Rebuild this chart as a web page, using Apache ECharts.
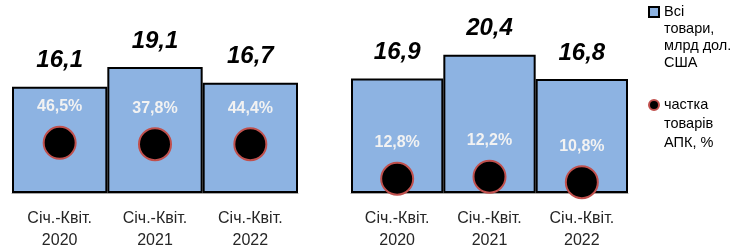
<!DOCTYPE html>
<html>
<head>
<meta charset="utf-8">
<script src="https://cdn.jsdelivr.net/npm/echarts@6/dist/echarts.min.js"></script>
<style>
  html, body { margin: 0; padding: 0; background: #fff; }
  #chart { width: 731px; height: 245px; }
</style>
</head>
<body>
<div id="chart"></div>
<script>
// дані
const categories = ['Січ.-Квіт.\n2020', 'Січ.-Квіт.\n2021', 'Січ.-Квіт.\n2022'];
const totalsLeft = [16.1, 19.1, 16.7];
const sharesLeft = [46.5, 37.8, 44.4];
const markerLeft = [7.6, 7.4, 7.4];
const totalsRight = [16.9, 20.4, 16.8];
const sharesRight = [12.8, 12.2, 10.8];
const markerRight = [2.1, 2.4, 1.6];

const BAR_NAME = 'Всі\nтовари,\nмлрд дол.\nСША';
const DOT_NAME = 'частка\nтоварів\nАПК, %';
const FONT = 'Liberation Sans';

const comma = v => String(v).replace('.', ',');

function barSeries(idx, totals) {
  return {
    name: BAR_NAME,
    type: 'bar',
    xAxisIndex: idx,
    yAxisIndex: idx,
    barCategoryGap: 0,
    data: totals,
    itemStyle: { color: '#8db3e2', borderColor: '#000', borderWidth: 2 },
    label: {
      show: true,
      position: 'top',
      distance: 14,
      fontFamily: FONT,
      fontSize: 24,
      fontWeight: 'bold',
      fontStyle: 'italic',
      color: '#000',
      formatter: p => comma(p.value)
    }
  };
}

function dotSeries(idx, marks, shares) {
  return {
    name: DOT_NAME,
    type: 'scatter',
    xAxisIndex: idx,
    yAxisIndex: idx,
    symbolSize: 32,
    data: marks,
    itemStyle: { color: '#000', opacity: 1, borderColor: '#c0504d', borderWidth: 2 },
    label: {
      show: true,
      position: 'top',
      distance: 11,
      fontFamily: FONT,
      fontSize: 16,
      fontWeight: 'bold',
      color: '#f2f2f2',
      formatter: p => comma(shares[p.dataIndex]) + '%'
    },
    z: 3
  };
}

function xAxis(idx) {
  return {
    type: 'category',
    gridIndex: idx,
    data: categories,
    axisLine: { lineStyle: { color: '#a6a6a6', width: 1 } },
    axisTick: { length: 5, lineStyle: { color: '#a6a6a6' } },
    axisLabel: {
      margin: 15,
      fontFamily: FONT,
      fontSize: 16,
      lineHeight: 22,
      color: '#262626'
    }
  };
}

function yAxis(idx) {
  return { type: 'value', gridIndex: idx, min: 0, max: 25, show: false, splitLine: { show: false } };
}

const chart = echarts.init(document.getElementById('chart'));
chart.setOption({
  animation: false,
  textStyle: { fontFamily: FONT },
  grid: [
    { left: 12, width: 286, top: 28, bottom: 52, outerBoundsMode: 'none' },
    { left: 351, width: 277, top: 23.5, bottom: 52, outerBoundsMode: 'none' }
  ],
  legend: [
    {
      data: [BAR_NAME],
      left: 648,
      top: -47.5,
      padding: 0,
      icon: 'rect',
      itemWidth: 10,
      itemHeight: 10,
      formatter: n => '\n\n\n' + n,
      textStyle: { fontSize: 14.5, lineHeight: 17, color: '#000' }
    },
    {
      data: [DOT_NAME],
      left: 648,
      top: 57.5,
      padding: 0,
      itemWidth: 10,
      itemHeight: 10,
      formatter: n => '\n\n' + n,
      textStyle: { fontSize: 14.5, lineHeight: 19, color: '#000' }
    }
  ],
  xAxis: [xAxis(0), xAxis(1)],
  yAxis: [yAxis(0), yAxis(1)],
  series: [
    barSeries(0, totalsLeft),
    dotSeries(0, markerLeft, sharesLeft),
    barSeries(1, totalsRight),
    dotSeries(1, markerRight, sharesRight)
  ]
});
</script>
</body>
</html>
